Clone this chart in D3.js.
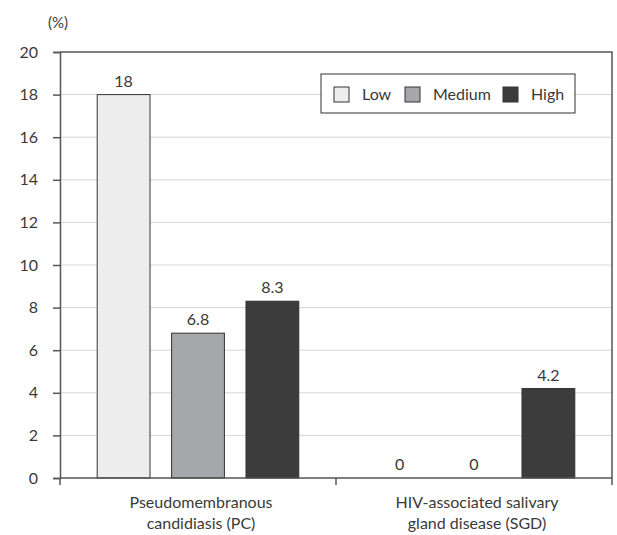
<!DOCTYPE html>
<html>
<head>
<meta charset="utf-8">
<script src="https://cdn.jsdelivr.net/npm/d3@7"></script>
<style>
  body { margin: 0; background: #fff; }
  text { font-family: "Lato", "DejaVu Sans", sans-serif; fill: #3a3a3a; }
</style>
</head>
<body>
<div class="chart"></div>
<script>
// data
var categories = ["Pseudomembranous\ncandidiasis (PC)", "HIV-associated salivary\ngland disease (SGD)"];
var series = ["Low", "Medium", "High"];
var low = [18, 0];
var medium = [6.8, 0];
var high = [8.3, 4.2];
var yTicks = [0, 2, 4, 6, 8, 10, 12, 14, 16, 18, 20];
var colors = ["#ededed", "#a6a7aa", "#3c3c3c"];

var values = [low, medium, high];

var margin = { top: 52, right: 5, bottom: 57, left: 60 },
    width = 617,
    height = 535,
    w = width - margin.left - margin.right,
    h = height - margin.top - margin.bottom;

var svg = d3.select(".chart")
    .append("svg")
    .attr("width", width)
    .attr("height", height);

var g = svg.append("g")
    .attr("transform", "translate(" + margin.left + "," + margin.top + ")");

var y = d3.scaleLinear()
    .domain([0, 20])
    .range([h, 0]);

var x0 = d3.scaleBand()
    .domain(d3.range(categories.length))
    .range([0, w]);

var x1 = d3.scaleBand()
    .domain(d3.range(series.length))
    .range([0, x0.bandwidth()])
    .paddingInner(0.29)
    .paddingOuter(0.5);

// gridlines
g.append("g")
    .selectAll("line")
    .data(yTicks.filter(t => t > 0 && t < 20))
    .enter()
    .append("line")
    .attr("x1", 0)
    .attr("x2", w)
    .attr("y1", d => y(d))
    .attr("y2", d => y(d))
    .style("stroke", "#d6d6d6")
    .style("stroke-width", 1);

// bars
var groups = g.selectAll(".grp")
    .data(categories)
    .enter()
    .append("g")
    .attr("transform", (d, i) => "translate(" + x0(i) + ",0)");

groups.each(function(c, ci) {
    var grp = d3.select(this);
    series.forEach(function(s, si) {
        var v = values[si][ci];
        if (v > 0) {
            grp.append("rect")
                .attr("x", x1(si))
                .attr("y", y(v))
                .attr("width", x1.bandwidth())
                .attr("height", h - y(v))
                .style("fill", colors[si])
                .style("stroke", "#333")
                .style("stroke-width", 1);
        }
        grp.append("text")
            .attr("x", x1(si) + x1.bandwidth() / 2)
            .attr("y", y(v) - 8)
            .attr("text-anchor", "middle")
            .style("font-size", "16px")
            .text(v);
    });
});

// plot frame (top and right)
g.append("path")
    .attr("d", "M0,0H" + w + "V" + h)
    .style("fill", "none")
    .style("stroke", "#555")
    .style("stroke-width", 1.5);

// y axis
var yAxis = g.append("g")
    .call(d3.axisLeft(y).tickValues(yTicks).tickSize(7).tickPadding(15));
yAxis.select(".domain").style("stroke", "#555").style("stroke-width", 1.5);
yAxis.selectAll(".tick line").style("stroke", "#555").style("stroke-width", 1.5);
yAxis.selectAll("text").style("font-size", "16px").style("fill", "#3a3a3a")
    .style("font-family", "Lato, 'DejaVu Sans', sans-serif");

// x axis: ticks at band boundaries
var xAxis = g.append("g")
    .attr("transform", "translate(0," + h + ")");
xAxis.append("line")
    .attr("x1", 0).attr("x2", w)
    .style("stroke", "#555").style("stroke-width", 1.5);
xAxis.selectAll(".xt")
    .data(d3.range(categories.length + 1))
    .enter()
    .append("line")
    .attr("x1", d => d * x0.step())
    .attr("x2", d => d * x0.step())
    .attr("y1", 0)
    .attr("y2", 7)
    .style("stroke", "#555").style("stroke-width", 1.5);

xAxis.selectAll(".xl")
    .data(categories)
    .enter()
    .append("text")
    .attr("x", (d, i) => x0(i) + x0.bandwidth() / 2 + 3)
    .attr("y", 30)
    .attr("text-anchor", "middle")
    .style("font-size", "16px")
    .each(function(d) {
        var t = d3.select(this);
        d.split("\n").forEach(function(line, li) {
            t.append("tspan")
                .attr("x", t.attr("x"))
                .attr("dy", li === 0 ? 0 : 21)
                .text(line);
        });
    });

// unit label
svg.append("text")
    .attr("x", 58)
    .attr("y", 28)
    .attr("text-anchor", "middle")
    .style("font-size", "15px")
    .text("(%)");

// legend
var legend = svg.append("g")
    .attr("transform", "translate(321,74)");
legend.append("rect")
    .attr("width", 254)
    .attr("height", 39)
    .style("fill", "#fff")
    .style("stroke", "#333")
    .style("stroke-width", 1);
var legX = [13, 84, 182];
series.forEach(function(s, i) {
    legend.append("rect")
        .attr("x", legX[i])
        .attr("y", 13)
        .attr("width", 15)
        .attr("height", 15)
        .style("fill", colors[i])
        .style("stroke", "#333")
        .style("stroke-width", 1);
    legend.append("text")
        .attr("x", legX[i] + 28)
        .attr("y", 26)
        .style("font-size", "16px")
        .text(s);
});
</script>
</body>
</html>
